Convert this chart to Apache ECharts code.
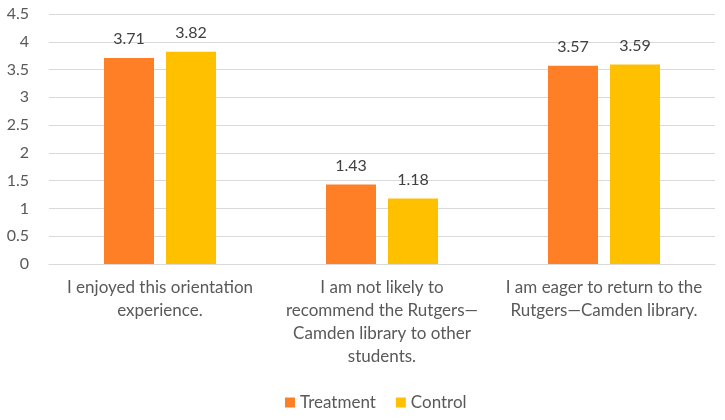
<!DOCTYPE html>
<html><head><meta charset="utf-8">
<script src="https://cdn.jsdelivr.net/npm/echarts@6/dist/echarts.min.js"></script>
<style>html,body{margin:0;padding:0;background:#fff}#c{width:725px;height:420px}</style>
</head><body><div id="c"></div>
<script>
const categories = [
  "I enjoyed this orientation\nexperience.",
  "I am not likely to\nrecommend the Rutgers\u2014\nCamden library to other\nstudents.",
  "I am eager to return to the\nRutgers\u2014Camden library."
];
const treatment = [3.71, 1.43, 3.57];
const control = [3.82, 1.18, 3.59];
const yTicks = [0, 4.5, 0.5];

const FONT = 'Lato';
const chart = echarts.init(document.getElementById('c'));
const labelStyle = {show:true, position:'top', distance:11, color:'#404040', fontFamily:FONT, fontSize:16};
chart.setOption({
  animation:false,
  textStyle:{fontFamily:FONT},
  grid:{left:49, right:10, top:14, bottom:156, containLabel:false},
  legend:{bottom:4, left:280, itemWidth:10, itemHeight:10, itemGap:20, icon:'rect',
    textStyle:{color:'#595959', fontFamily:FONT, fontSize:17}},
  xAxis:{type:'category', data:categories,
    axisLine:{lineStyle:{color:'#d9d9d9'}}, axisTick:{show:false},
    axisLabel:{color:'#595959', fontFamily:FONT, fontSize:17, lineHeight:23, margin:12, interval:0}},
  yAxis:{type:'value', min:yTicks[0], max:yTicks[1], interval:yTicks[2],
    axisLine:{show:false}, axisTick:{show:false},
    splitLine:{lineStyle:{color:'#d9d9d9'}},
    axisLabel:{color:'#595959', fontFamily:FONT, fontSize:16, margin:20}},
  series:[
    {name:'Treatment', type:'bar', data:treatment, barWidth:50, barGap:'24%', itemStyle:{color:'#FF7F27'}, label:labelStyle},
    {name:'Control', type:'bar', data:control, barWidth:50, itemStyle:{color:'#FFC000'}, label:labelStyle}
  ]
});
</script></body></html>
